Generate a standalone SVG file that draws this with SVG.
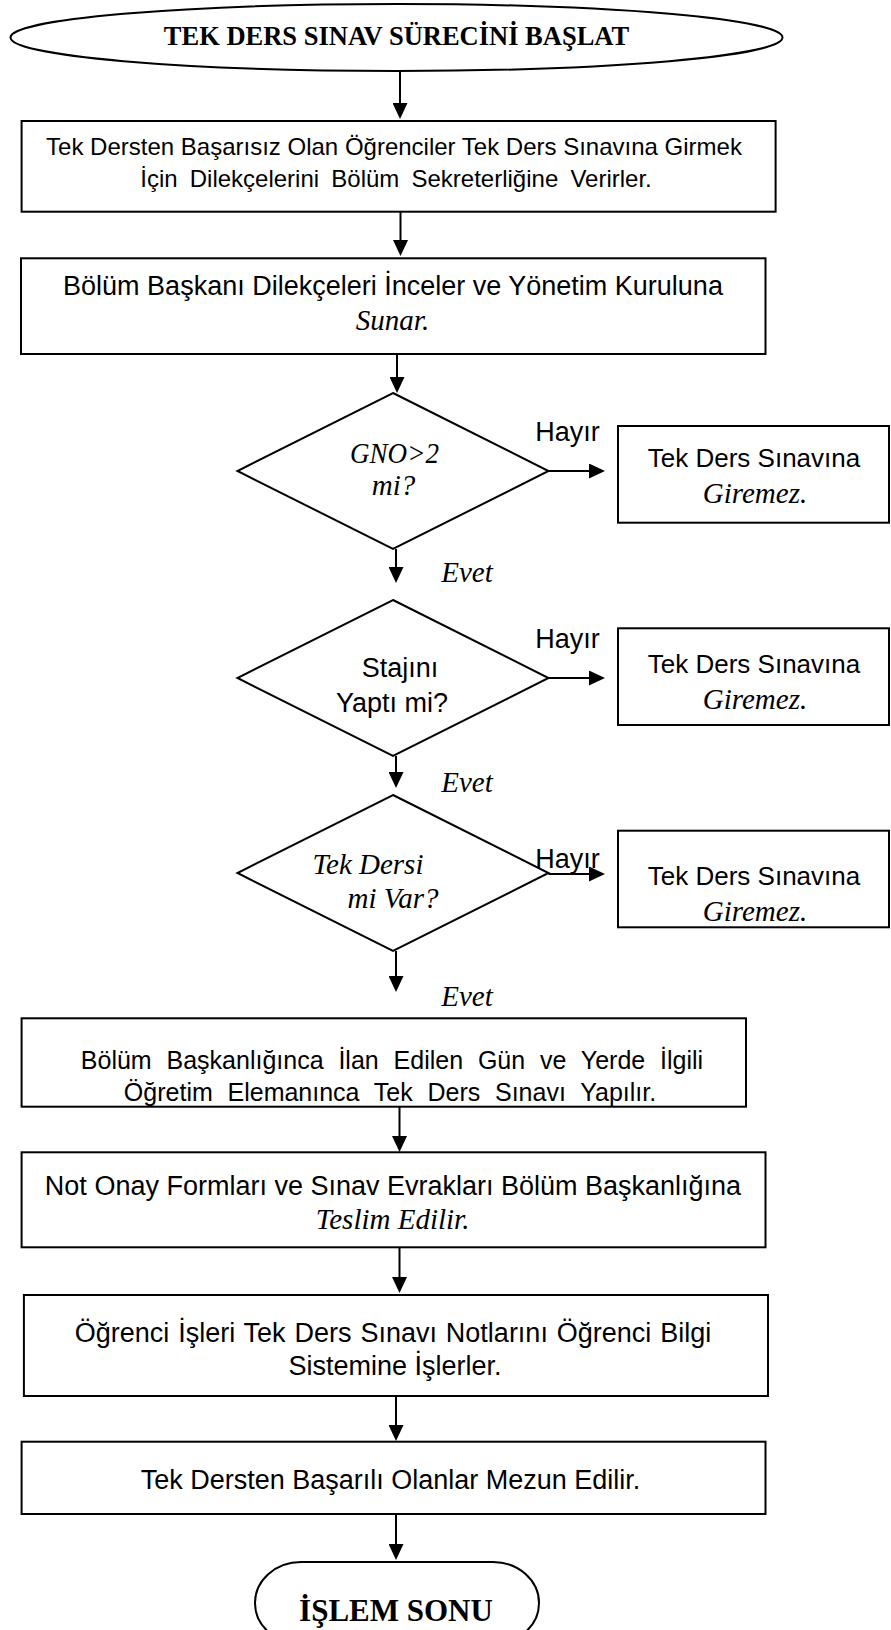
<svg xmlns="http://www.w3.org/2000/svg" width="891" height="1630" viewBox="0 0 891 1630">
  <defs>
    <marker id="arrow" markerUnits="userSpaceOnUse" viewBox="0 0 16 15" markerWidth="16" markerHeight="15" refX="6" refY="7.5" orient="auto">
      <path d="M0,0 L16,7.5 L0,15 z" fill="#000"/>
    </marker>
    <style>
      .shape{fill:#fff;stroke:#000;stroke-width:2}
      .conn{fill:none;stroke:#000;stroke-width:2;marker-end:url(#arrow)}
      .sans{font-family:"Liberation Sans",Arial,sans-serif;font-size:27px;fill:#000;text-anchor:middle}
      .it{font-family:"Liberation Serif","Times New Roman",serif;font-style:italic;font-size:29px;fill:#000;text-anchor:middle}
      .bold{font-family:"Liberation Serif","Times New Roman",serif;font-weight:bold;fill:#000;text-anchor:middle}
    </style>
  </defs>
  <rect width="891" height="1630" fill="#fff"/>

  <!-- start terminator -->
  <g id="start">
    <ellipse class="shape" cx="396.5" cy="37.5" rx="386" ry="33.5"/>
    <text class="bold" x="396.5" y="45" style="font-size:26.5px">TEK DERS SINAV SÜRECİNİ BAŞLAT</text>
  </g>

  <g id="dilekce">
    <rect class="shape" x="21.6" y="121" width="754" height="90.7"/>
    <text class="sans" x="394" y="155" style="font-size:24px">Tek Dersten Başarısız Olan Öğrenciler Tek Ders Sınavına Girmek</text>
    <text class="sans" x="396" y="187" style="font-size:24px;word-spacing:5.5px">İçin Dilekçelerini Bölüm Sekreterliğine Verirler.</text>
  </g>

  <g id="inceleme">
    <rect class="shape" x="21" y="258.3" width="744.5" height="95.7"/>
    <text class="sans" x="393" y="295">Bölüm Başkanı Dilekçeleri İnceler ve Yönetim Kuruluna</text>
    <text class="it" x="392.5" y="330">Sunar.</text>
  </g>

  <g id="karar-gno">
    <polygon class="shape" points="393,393 548.5,471 393,549 237.5,471"/>
    <text class="it" x="394.5" y="463" textLength="89" lengthAdjust="spacingAndGlyphs">GNO&gt;2</text>
    <text class="it" x="393.5" y="495">mi?</text>
  </g>

  <g id="red-gno">
    <rect class="shape" x="618" y="426" width="271" height="96.7"/>
    <text class="sans" x="754" y="467" style="font-size:26px">Tek Ders Sınavına</text>
    <text class="it" x="755" y="503">Giremez.</text>
  </g>

  <g id="karar-staj">
    <polygon class="shape" points="393,600 548.5,678 393,756 237.5,678"/>
    <text class="sans" x="400" y="677">Stajını</text>
    <text class="sans" x="392" y="712">Yaptı mi?</text>
  </g>

  <g id="red-staj">
    <rect class="shape" x="618" y="628.3" width="271" height="96.7"/>
    <text class="sans" x="754" y="673" style="font-size:26px">Tek Ders Sınavına</text>
    <text class="it" x="755" y="709">Giremez.</text>
  </g>

  <g id="karar-tekders">
    <polygon class="shape" points="393,795 548.5,873 393,951 237.5,873"/>
    <text class="it" x="368" y="874">Tek Dersi</text>
    <text class="it" x="393" y="908">mi Var?</text>
  </g>

  <g id="red-tekders">
    <rect class="shape" x="618" y="830.7" width="271" height="96.6"/>
    <text class="sans" x="754" y="885" style="font-size:26px">Tek Ders Sınavına</text>
    <text class="it" x="755" y="921">Giremez.</text>
  </g>

  <g id="sinav">
    <rect class="shape" x="21.6" y="1018.3" width="724.4" height="88.4"/>
    <text class="sans" x="392" y="1069" style="font-size:25px;word-spacing:7.9px">Bölüm Başkanlığınca İlan Edilen Gün ve Yerde İlgili</text>
    <text class="sans" x="390" y="1101" style="font-size:25px;word-spacing:7.8px">Öğretim Elemanınca Tek Ders Sınavı Yapılır.</text>
  </g>

  <g id="teslim">
    <rect class="shape" x="21.6" y="1152.3" width="743.9" height="95"/>
    <text class="sans" x="393" y="1195">Not Onay Formları ve Sınav Evrakları Bölüm Başkanlığına</text>
    <text class="it" x="392.6" y="1229">Teslim Edilir.</text>
  </g>

  <g id="not-girisi">
    <rect class="shape" x="23.9" y="1295" width="744.1" height="101"/>
    <text class="sans" x="393" y="1342" style="word-spacing:1.4px">Öğrenci İşleri Tek Ders Sınavı Notlarını Öğrenci Bilgi</text>
    <text class="sans" x="395" y="1375">Sistemine İşlerler.</text>
  </g>

  <g id="mezuniyet">
    <rect class="shape" x="21.6" y="1441.7" width="743.9" height="72.3"/>
    <text class="sans" x="390.5" y="1489">Tek Dersten Başarılı Olanlar Mezun Edilir.</text>
  </g>

  <!-- end terminator -->
  <g id="end">
    <rect class="shape" x="255" y="1562" width="284" height="82" rx="46" ry="41"/>
    <text class="bold" x="396" y="1621" style="font-size:31px">İŞLEM SONU</text>
  </g>

  <!-- connectors and branch labels -->
  <g id="connectors">
    <path class="conn" d="M400,71 V109"/>
    <path class="conn" d="M400.5,211.7 V246"/>
    <path class="conn" d="M397,354 V383"/>
    <path class="conn" d="M396,549 V573"/>
    <path class="conn" d="M396,756 V778"/>
    <path class="conn" d="M396,951 V982"/>
    <path class="conn" d="M399.5,1106.7 V1142"/>
    <path class="conn" d="M399.5,1247.3 V1283"/>
    <path class="conn" d="M396,1396 V1431"/>
    <path class="conn" d="M396,1514 V1550"/>
    <path class="conn" d="M548.5,471 H595"/>
    <path class="conn" d="M548.5,678 H595"/>
    <path class="conn" d="M548.5,874 H595"/>
    <text class="sans" x="567.5" y="441">Hayır</text>
    <text class="sans" x="567.5" y="648">Hayır</text>
    <text class="sans" x="567.5" y="868">Hayır</text>
    <text class="it" x="467" y="582">Evet</text>
    <text class="it" x="467" y="792">Evet</text>
    <text class="it" x="467" y="1006">Evet</text>
  </g>
</svg>
